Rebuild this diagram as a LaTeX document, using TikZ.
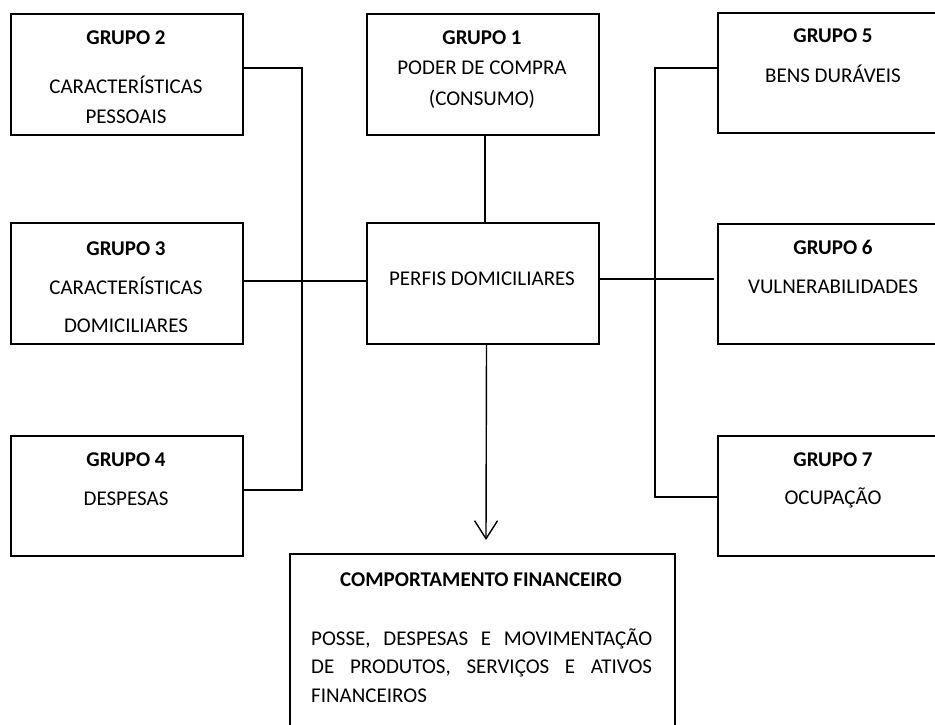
\documentclass[tikz,border=0pt]{standalone}
\usepackage{fontspec}
\setmainfont{Carlito}
\usetikzlibrary{arrows.meta}
\begin{document}
\begin{tikzpicture}[x=1pt,y=-1pt,
  box/.style={draw, line width=2pt, rectangle, minimum width=232pt, minimum height=121pt, inner sep=0pt, anchor=north west},
  txt/.style={anchor=base, inner sep=0pt, font=\fontsize{21}{25}\selectfont},
  hd/.style={anchor=base, inner sep=0pt, font=\fontsize{21}{25}\selectfont\bfseries},
  bus/.style={line width=2.3pt},
  thinlink/.style={line width=1.4pt}]
\useasboundingbox (0,0) rectangle (935,725);
\clip (0,0) rectangle (935,725);
% boxes
\node[box] (g2) at (10,13) {};
\node[box] (g1) at (366,13) {};
\node[box, minimum height=120pt] (g5) at (717,12) {};
\node[box] (g3) at (10,222) {};
\node[box] (pd) at (366,222) {};
\node[box, minimum height=120pt] (g6) at (717,223) {};
\node[box, minimum height=120pt] (g4) at (10,435) {};
\node[box, minimum height=120pt] (g7) at (717,435) {};
\node[box, minimum width=385pt, minimum height=200pt] (cf) at (289,553) {};
% texts
\node[hd]  (g2a) at (126,45) {GRUPO 2};
\node[txt] (g2b) at (126,94) {CARACTERÍSTICAS};
\node[txt] (g2c) at (126,124) {PESSOAIS};
\node[hd]  (g1a) at (482,45) {GRUPO 1};
\node[txt] (g1b) at (482,75) {PODER DE COMPRA};
\node[txt] (g1c) at (482,106) {(CONSUMO)};
\node[hd]  (g5a) at (833,43) {GRUPO 5};
\node[txt] (g5b) at (833,82) {BENS DURÁVEIS};
\node[hd]  (g3a) at (126,255) {GRUPO 3};
\node[txt] (g3b) at (126,294) {CARACTERÍSTICAS};
\node[txt] (g3c) at (126,332) {DOMICILIARES};
\node[txt] (pda) at (482,285) {PERFIS DOMICILIARES};
\node[hd]  (g6a) at (833,254) {GRUPO 6};
\node[txt] (g6b) at (833,293) {VULNERABILIDADES};
\node[hd]  (g4a) at (126,466) {GRUPO 4};
\node[txt] (g4b) at (126,505) {DESPESAS};
\node[hd]  (g7a) at (833,466) {GRUPO 7};
\node[txt] (g7b) at (833,504) {OCUPAÇÃO};
\node[hd]  (cfa) at (481,586) {COMPORTAMENTO FINANCEIRO};
\node[txt, anchor=base west] (cfb) at (311,645) {\hbox to 341pt{POSSE,\hfill DESPESAS\hfill E\hfill MOVIMENTAÇÃO}};
\node[txt, anchor=base west] (cfc) at (311,673) {\hbox to 341pt{DE\hfill PRODUTOS,\hfill SERVIÇOS\hfill E\hfill ATIVOS}};
\node[txt, anchor=base west] (cfd) at (311,702) {FINANCEIROS};
% bus coordinates
\coordinate (lb2) at (302,68);
\coordinate (lb3) at (302,281);
\coordinate (lb4) at (302,490);
\coordinate (rb5) at (655,68);
\coordinate (rb6) at (655,279);
\coordinate (rb7) at (655,497);
% connectors
\draw[bus] (g2.east |- lb2) -- (lb2) -- (lb4) -- (g4.east |- lb4);
\draw[thinlink] (g3.east |- lb3) -- (lb3);
\draw[bus] (lb3) -- (pd.west |- lb3);
\draw[bus] (g5.west |- rb5) -- (rb5) -- (rb7) -- (g7.west |- rb7);
\draw[bus] (pd.east |- rb6) -- (rb6);
\draw[thinlink, shorten >=3pt] (rb6) -- (g6.west |- rb6);
\draw[thinlink] ([xshift=2pt]g1.south) -- ([xshift=2pt]pd.north);
\draw[thinlink, -{Straight Barb[length=18pt,width=23pt]}] ([xshift=3.5pt]pd.south) -- ([xshift=3.5pt,yshift=13pt]cf.north);
\end{tikzpicture}
\end{document}
